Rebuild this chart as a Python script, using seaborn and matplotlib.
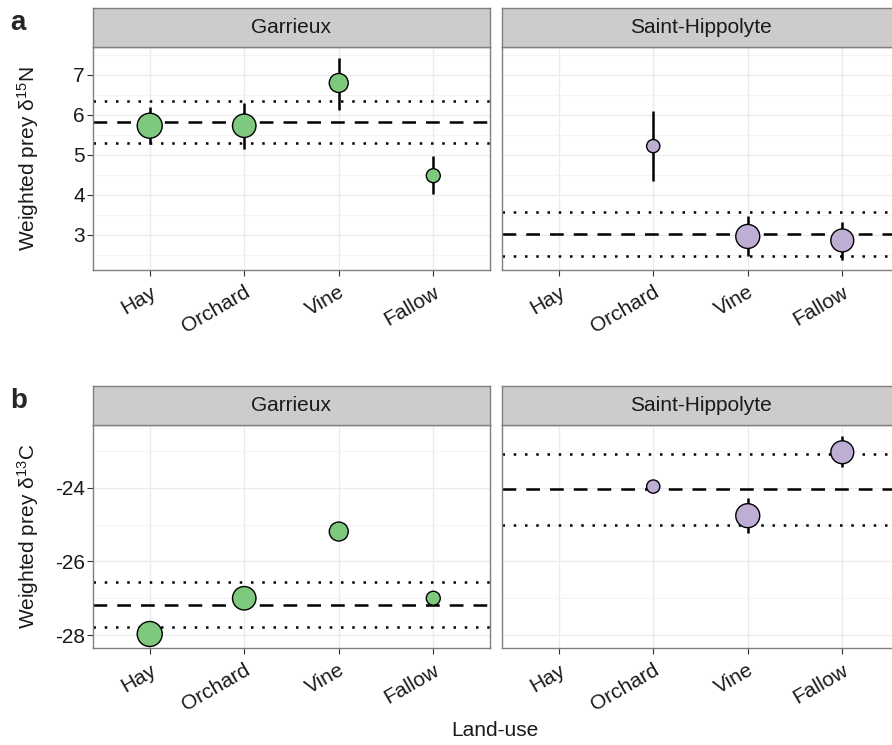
import matplotlib
matplotlib.use("Agg")
import matplotlib.pyplot as plt
import seaborn as sns
import pandas as pd
import numpy as np

# ---------------- data ----------------
landuse = ["Hay", "Orchard", "Vine", "Fallow"]
sites = ["Garrieux", "Saint-Hippolyte"]

# point weights (relative sample weight, drives marker area)
g_weight = [25, 22, 14.4, 7.8]
sh_landuse = ["Orchard", "Vine", "Fallow"]
sh_weight = [7.0, 23, 21]

# delta 15N
g_n15 = [5.73, 5.73, 6.80, 4.48]
g_n15_lo = [5.28, 5.15, 6.13, 4.02]
g_n15_hi = [6.20, 6.30, 7.43, 4.97]
sh_n15 = [5.22, 2.96, 2.86]
sh_n15_lo = [4.35, 2.46, 2.38]
sh_n15_hi = [6.10, 3.48, 3.33]
g_n15_ref = [5.82, 5.29, 6.35]     # mean, lower, upper
sh_n15_ref = [3.02, 2.48, 3.57]

# delta 13C
g_c13 = [-27.97, -27.00, -25.19, -27.00]
g_c13_lo = [-28.10, -27.12, -25.30, -27.08]
g_c13_hi = [-27.84, -26.88, -25.08, -26.92]
sh_c13 = [-23.97, -24.76, -23.04]
sh_c13_lo = [-24.02, -25.24, -23.43]
sh_c13_hi = [-23.92, -24.29, -22.60]
g_c13_ref = [-27.18, -27.79, -26.55]
sh_c13_ref = [-24.04, -25.00, -23.10]

colors = {"Garrieux": "#7FC97F", "Saint-Hippolyte": "#BEAED4"}

def make_df(site, cats, w, m, lo, hi):
    return pd.DataFrame({"site": site, "landuse": cats,
                         "pos": [landuse.index(c) for c in cats],
                         "weight": w, "mean": m, "lo": lo, "hi": hi})

panels = [
    dict(label="a", ylabel="Weighted prey δ$^{15}$N",
         dfs=[make_df("Garrieux", landuse, g_weight, g_n15, g_n15_lo, g_n15_hi),
              make_df("Saint-Hippolyte", sh_landuse, sh_weight, sh_n15, sh_n15_lo, sh_n15_hi)],
         refs=[g_n15_ref, sh_n15_ref],
         ylim=(2.12, 7.7), major=[3, 4, 5, 6, 7], minor=[2.5, 3.5, 4.5, 5.5, 6.5, 7.5]),
    dict(label="b", ylabel="Weighted prey δ$^{13}$C",
         dfs=[make_df("Garrieux", landuse, g_weight, g_c13, g_c13_lo, g_c13_hi),
              make_df("Saint-Hippolyte", sh_landuse, sh_weight, sh_c13, sh_c13_lo, sh_c13_hi)],
         refs=[g_c13_ref, sh_c13_ref],
         ylim=(-28.35, -22.3), major=[-28, -26, -24], minor=[-27, -25, -23]),
]

# ---------------- style ----------------
sns.set_theme(style="white")
plt.rcParams["font.family"] = ["Liberation Sans", "DejaVu Sans"]
plt.rcParams["mathtext.fontset"] = "custom"
plt.rcParams["mathtext.rm"] = "Liberation Sans"
plt.rcParams["mathtext.it"] = "Liberation Sans:italic"
plt.rcParams["mathtext.bf"] = "Liberation Sans:bold"

W, H = 892, 745
fig = plt.figure(figsize=(W / 100, H / 100), dpi=100)

def fx(px):
    return px / W

def fy(py):
    return 1 - py / H

grey50 = "#7F7F7F"
txt = "#1A1A1A"
panel_w = 397
lefts = [93, 502]
rows = [dict(strip_top=8, top=47, bottom=270), dict(strip_top=386, top=425, bottom=648)]

for p, row in zip(panels, rows):
    for j, df in enumerate(p["dfs"]):
        site = sites[j]
        ax = fig.add_axes([fx(lefts[j]), fy(row["bottom"]), fx(panel_w),
                           (row["bottom"] - row["top"]) / H])
        ax.set_facecolor("white")
        ax.set_xlim(-0.6, 3.6)
        ax.set_ylim(*p["ylim"])
        ax.set_xticks(range(len(landuse)))
        ax.set_yticks(p["major"])
        ax.set_yticks(p["minor"], minor=True)
        ax.grid(True, which="major", color="#EBEBEB", lw=1.0, zorder=0)
        ax.grid(True, which="minor", axis="y", color="#F4F4F4", lw=0.8, zorder=0)
        ax.set_axisbelow(True)
        # reference lines
        mean, lo, hi = p["refs"][j]
        ax.axhline(mean, color="black", lw=1.8, ls=(0, (5.5, 4)), zorder=1)
        ax.axhline(lo, color="black", lw=1.8, ls=(0, (1, 3.5)), zorder=1)
        ax.axhline(hi, color="black", lw=1.8, ls=(0, (1, 3.5)), zorder=1)
        # error bars
        ax.vlines(df["pos"], df["lo"], df["hi"], color="black", lw=1.8, zorder=2)
        # points
        sns.scatterplot(data=df, x="pos", y="mean", size="weight",
                        sizes=(0, 324), size_norm=(0, 25),
                        color=colors[site], edgecolor="black", linewidth=1.0,
                        legend=False, ax=ax, zorder=3)
        ax.set_xlabel("")
        ax.set_ylabel("")
        ax.set_xticklabels(landuse, rotation=30, ha="right", va="top",
                           rotation_mode="anchor", fontsize=15, color=txt)
        ax.tick_params(axis="x", which="major", length=4, width=0.8,
                       color="#333333", pad=5, bottom=True)
        if j == 0:
            ax.set_yticklabels([str(v) for v in p["major"]], fontsize=15,
                               color=txt)
            ax.tick_params(axis="y", which="major", length=4, width=0.8,
                           color="#333333", pad=2, left=True)
            ax.tick_params(axis="y", which="minor", length=0)
            ax.set_ylabel(p["ylabel"], fontsize=15, color=txt)
            ax.yaxis.set_label_coords((41 - lefts[0]) / panel_w, 0.5)
        else:
            ax.tick_params(axis="y", which="both", left=False, labelleft=False)
        for s in ax.spines.values():
            s.set_color(grey50)
            s.set_linewidth(1.0)
            s.set_visible(True)
        # strip
        sax = fig.add_axes([fx(lefts[j]), fy(row["top"]), fx(panel_w),
                            (row["top"] - row["strip_top"]) / H])
        sax.set_facecolor("#CCCCCC")
        sax.set_xticks([])
        sax.set_yticks([])
        for s in sax.spines.values():
            s.set_color(grey50)
            s.set_linewidth(1.0)
            s.set_visible(True)
        sax.text(0.5, 0.5, site, ha="center", va="center", fontsize=15,
                 color=txt, transform=sax.transAxes)
    fig.text(fx(10), fy(row["strip_top"] + 15), p["label"], fontsize=20,
             fontweight="bold", ha="left", va="center")

fig.text(fx(495), fy(731), "Land-use", ha="center", va="center",
         fontsize=15, color=txt)

fig.savefig("out.png", dpi=100, facecolor="white")
